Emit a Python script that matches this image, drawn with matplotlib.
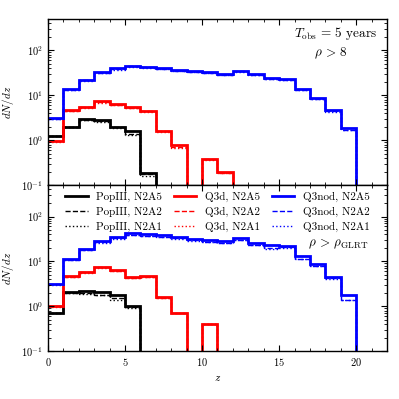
import numpy as np
import matplotlib
matplotlib.use("Agg")
import matplotlib.pyplot as plt
from matplotlib.ticker import MultipleLocator, LogLocator, NullFormatter
from matplotlib.lines import Line2D

plt.rcParams['font.family'] = 'serif'
plt.rcParams['font.serif'] = ['cmr10']
plt.rcParams['mathtext.fontset'] = 'cm'
plt.rcParams['axes.formatter.use_mathtext'] = True

edges = np.arange(0, 23)

# rho > 8
top_pop3_a5 = [1.25, 2.0, 2.95, 2.8, 1.99, 1.6, 0.19, 0, 0, 0, 0, 0, 0, 0, 0, 0, 0, 0, 0, 0, 0, 0]
top_pop3_a2 = [1.25, 2.0, 2.85, 2.65, 1.95, 1.35, 0.18, 0, 0, 0, 0, 0, 0, 0, 0, 0, 0, 0, 0, 0, 0, 0]
top_pop3_a1 = [1.22, 1.95, 2.8, 2.55, 1.9, 1.28, 0.16, 0, 0, 0, 0, 0, 0, 0, 0, 0, 0, 0, 0, 0, 0, 0]
top_q3d_a5 = [0.95, 4.6, 5.6, 7.3, 6.3, 5.4, 4.5, 1.6, 0.77, 0, 0.39, 0.195, 0, 0, 0, 0, 0, 0, 0, 0, 0, 0]
top_q3d_a2 = [0.95, 4.5, 5.4, 7.0, 6.1, 5.2, 4.4, 1.58, 0.7, 0, 0.38, 0.19, 0, 0, 0, 0, 0, 0, 0, 0, 0, 0]
top_q3d_a1 = [0.93, 4.4, 5.3, 6.9, 6.0, 5.1, 4.3, 1.55, 0.67, 0, 0.37, 0.19, 0, 0, 0, 0, 0, 0, 0, 0, 0, 0]
top_q3n_a5 = [3.06, 13.6, 22.3, 32.7, 39.6, 45.9, 43.6, 41.0, 36.8, 34.8, 32.7, 29.9, 35.5, 29.5, 24.0, 22.8, 13.8, 8.6, 4.6, 1.85, 0, 0]
top_q3n_a2 = [3.0, 13.0, 21.5, 31.5, 38.0, 44.0, 42.0, 39.5, 35.5, 33.5, 31.5, 28.8, 34.0, 28.5, 23.0, 22.0, 13.3, 8.4, 4.4, 1.72, 0, 0]
top_q3n_a1 = [2.95, 12.8, 21.0, 31.0, 37.5, 43.5, 41.5, 39.0, 35.0, 33.0, 31.0, 28.3, 33.5, 28.0, 22.6, 21.6, 13.0, 8.3, 4.3, 1.68, 0, 0]

# rho > rho_GLRT
bot_pop3_a5 = [0.71, 2.05, 2.2, 2.05, 1.74, 1.0, 0, 0, 0, 0, 0, 0, 0, 0, 0, 0, 0, 0, 0, 0, 0, 0]
bot_pop3_a2 = [0.71, 2.0, 2.0, 1.8, 1.5, 0.95, 0, 0, 0, 0, 0, 0, 0, 0, 0, 0, 0, 0, 0, 0, 0, 0]
bot_pop3_a1 = [0.7, 1.98, 1.92, 1.74, 1.41, 0.92, 0, 0, 0, 0, 0, 0, 0, 0, 0, 0, 0, 0, 0, 0, 0, 0]
bot_q3d_a5 = [1.0, 4.7, 5.9, 7.6, 6.3, 4.5, 4.7, 1.59, 0.71, 0, 0.41, 0, 0, 0, 0, 0, 0, 0, 0, 0, 0, 0]
bot_q3d_a2 = [1.0, 4.6, 5.7, 7.4, 6.1, 4.25, 4.6, 1.56, 0.7, 0, 0.4, 0, 0, 0, 0, 0, 0, 0, 0, 0, 0, 0]
bot_q3d_a1 = [0.98, 4.5, 5.6, 7.3, 6.0, 4.2, 4.55, 1.55, 0.69, 0, 0.4, 0, 0, 0, 0, 0, 0, 0, 0, 0, 0, 0]
bot_q3n_a5 = [3.2, 11.1, 19.2, 28.5, 35.6, 43.0, 40.0, 38.5, 35.0, 32.0, 30.0, 28.5, 33.0, 26.0, 22.8, 22.4, 13.1, 8.6, 4.5, 1.74, 0, 0]
bot_q3n_a2 = [3.1, 10.6, 17.8, 26.5, 33.0, 39.5, 37.0, 35.5, 32.5, 29.5, 27.5, 26.0, 30.5, 23.5, 19.5, 20.5, 11.5, 8.0, 4.2, 1.4, 0, 0]
bot_q3n_a1 = [3.05, 10.5, 17.5, 26.0, 32.0, 38.8, 36.5, 35.0, 32.0, 29.0, 27.0, 25.5, 30.0, 23.0, 19.2, 20.0, 11.3, 7.9, 4.1, 1.36, 0, 0]

labels = ["PopIII, N2A5", "PopIII, N2A2", "PopIII, N2A1",
          "Q3d, N2A5", "Q3d, N2A2", "Q3d, N2A1",
          "Q3nod, N2A5", "Q3nod, N2A2", "Q3nod, N2A1"]

fig = plt.figure(figsize=(3.99, 3.99), dpi=100)
ax1 = fig.add_axes([0.12, 0.5362, 0.85, 0.416])
ax2 = fig.add_axes([0.12, 0.12, 0.85, 0.416])


def draw(ax, sets):
    for color, (a5, a2, a1) in sets:
        ax.stairs(a5, edges, baseline=None, color=color, lw=2.0, ls='-')
        ax.stairs(a2, edges, baseline=None, color=color, lw=1.0, ls='--')
        ax.stairs(a1, edges, baseline=None, color=color, lw=1.0, ls=':')


draw(ax1, [('k', (top_pop3_a5, top_pop3_a2, top_pop3_a1)),
           ('r', (top_q3d_a5, top_q3d_a2, top_q3d_a1)),
           ('b', (top_q3n_a5, top_q3n_a2, top_q3n_a1))])
draw(ax2, [('k', (bot_pop3_a5, bot_pop3_a2, bot_pop3_a1)),
           ('r', (bot_q3d_a5, bot_q3d_a2, bot_q3d_a1)),
           ('b', (bot_q3n_a5, bot_q3n_a2, bot_q3n_a1))])

for ax in (ax1, ax2):
    ax.set_yscale('log')
    ax.set_ylim(0.1, 500)
    ax.set_xlim(0, 22)
    ax.xaxis.set_major_locator(MultipleLocator(5))
    ax.xaxis.set_minor_locator(MultipleLocator(1))
    ax.yaxis.set_major_locator(LogLocator(base=10, numticks=10))
    ax.yaxis.set_minor_locator(LogLocator(base=10, subs=np.arange(2, 10), numticks=10))
    ax.yaxis.set_minor_formatter(NullFormatter())
    ax.tick_params(which='both', direction='in', top=True, right=True, labelsize=7.5)
    ax.tick_params(which='major', length=4, width=0.8)
    ax.tick_params(which='minor', length=2, width=0.6)
    ax.set_ylabel(r'$dN/dz$', fontsize=8)
    for s in ax.spines.values():
        s.set_linewidth(1.0)

ax1.tick_params(labelbottom=False)
ax2.set_xlabel(r'$z$', fontsize=8)

ax1.text(0.97, 0.916, r'$T_{\rm obs}\,=\,5$ years', transform=ax1.transAxes,
         ha='right', va='center', fontsize=9.5)
ax1.text(0.835, 0.795, r'$\rho\,>\,8$', transform=ax1.transAxes,
         ha='center', va='center', fontsize=9.5)
ax2.text(0.945, 0.645, r'$\rho\,>\,\rho_{\rm GLRT}$', transform=ax2.transAxes,
         ha='right', va='center', fontsize=9.5)

leg_handles = []
for color in ('k', 'r', 'b'):
    leg_handles += [Line2D([], [], color=color, lw=2.0, ls='-'),
                    Line2D([], [], color=color, lw=1.0, ls='--'),
                    Line2D([], [], color=color, lw=1.0, ls=':')]
ax2.legend(leg_handles, labels, ncol=3, loc='upper center', frameon=False,
           fontsize=8, handlelength=2.0, columnspacing=1.1, handletextpad=0.75,
           labelspacing=0.42, borderaxespad=0.2)

fig.savefig("out.png", dpi=100)
